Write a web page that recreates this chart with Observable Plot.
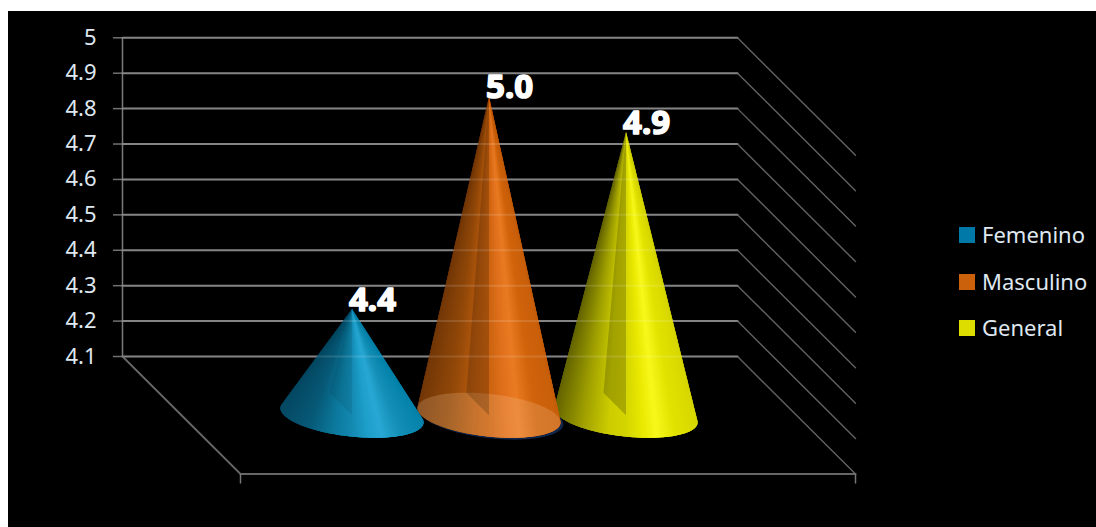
<!DOCTYPE html>
<html>
<head>
<meta charset="utf-8">
<script src="https://cdn.jsdelivr.net/npm/d3@7"></script>
<script src="https://cdn.jsdelivr.net/npm/@observablehq/plot@0.6"></script>
<style>
  html, body { margin: 0; padding: 0; background: #fff; overflow: hidden; height: 527px; }
  #panel { position: absolute; left: 8px; top: 11px; width: 1088px; height: 516px; background: #000; overflow: hidden;
           font-family: "Noto Sans", sans-serif; }
  #panel svg { display: block; }
  .legend { position: absolute; left: 949px; top: 0; color: #dfe8f0; font-size: 22px; }
  .legend div { position: absolute; white-space: nowrap; left: 0; line-height: 24px; }
  .legend i { position: absolute; left: 2px; top: 4px; width: 16px; height: 16px; }
  .legend span { position: absolute; left: 25px; top: -1px; }
</style>
</head>
<body>
<div id="panel"></div>
<script>
// Survey scores by group
const categories = ["Femenino", "Masculino", "General"];
const scores = [4.4, 5.0, 4.9];
const tickValues = [4.1, 4.2, 4.3, 4.4, 4.5, 4.6, 4.7, 4.8, 4.9, 5];
const legendColors = ["#0078a8", "#cc610c", "#dddd00"];

// Lighting around each cone, from its left silhouette to its right one
const shadeStops = [0, 0.2, 0.38, 0.5, 0.62, 0.72, 0.85, 1];
const femeninoShades = ["#054a64", "#075a78", "#0c7a9e", "#1488b0", "#1d9fca", "#28a8d4", "#1590b8", "#0784ac"];
const masculinoShades = ["#743808", "#8f4708", "#b5590e", "#c9620f", "#e0701c", "#e97b22", "#d0640c", "#c95f0c"];
const generalShades = ["#666600", "#a0a000", "#cccc00", "#d4d400", "#e8e800", "#f8f81c", "#e2e200", "#d8d800"];
const shades = [femeninoShades, masculinoShades, generalShades];

// Oblique projection: depth 0 is the back wall, depth 1 the front of the floor
const floorValue = 4.1;
const shearX = 0.19187;
const shearY = 0.3318;
const project = (u, v, d) => ({x: u + d * shearX, y: v - d * shearY});

// Cones stand halfway along the depth, spaced around the centre of the category
const clusterStep = 0.2228;
const radiusX = 0.1104;
const radiusD = 0.1915;
const centerOf = (i) => 0.5 + (i - 1) * clusterStep;

const rimPoint = (i, angle, grow = 1) =>
  project(centerOf(i) + grow * radiusX * Math.cos(angle), floorValue, 0.5 + grow * radiusD * Math.sin(angle));
const apexOf = (i) => project(centerOf(i), scores[i], 0.5);
const baseCenterOf = (i) => project(centerOf(i), floorValue, 0.5);

// Rim angles where the cone's outline touches the base, found by sweeping the rim
function silhouetteAngles(i) {
  const apex = apexOf(i);
  const slope = (a) => {
    const p = rimPoint(i, a);
    return (p.x - apex.x) / (apex.y - p.y);
  };
  const sweep = d3.range(-90, 270, 0.25).map((deg) => (deg * Math.PI) / 180);
  return {left: d3.least(sweep, slope), right: d3.greatest(sweep, slope)};
}

// Cone surface: overlapping fan of thin triangles painted left to right along the front of the rim
function coneFacets(i) {
  const steps = 150;
  const color = d3.scaleLinear().domain(shadeStops).range(shades[i]).interpolate(d3.interpolateRgb);
  const {left, right} = silhouetteAngles(i);
  const xLeft = rimPoint(i, left).x;
  const xRight = rimPoint(i, right).x;
  const apex = apexOf(i);
  const rows = [];
  for (let k = 0; k < steps; ++k) {
    const a0 = left + ((right - left) * k) / steps;
    const a1 = left + ((right - left) * Math.min(k + 1, steps)) / steps;
    const a2 = left + ((right - left) * Math.min(k + 3, steps)) / steps;
    const t = (rimPoint(i, a1).x - xLeft) / (xRight - xLeft);
    const fill = color(t);
    for (const pt of [apex, rimPoint(i, a0), rimPoint(i, a1), rimPoint(i, a2), apex]) {
      rows.push({...pt, facet: k, fill});
    }
  }
  return rows;
}

function ellipse(i, grow = 1, drop = 0, slide = 0) {
  return d3.range(0, 73).map((k) => {
    const p = rimPoint(i, (k / 72) * 2 * Math.PI, grow);
    return {x: p.x + slide, y: p.y - drop};
  });
}

// Inner triangle seen through the translucent surface: apex, base centre, back of the base
const innerFold = (i) => [apexOf(i), baseCenterOf(i), rimPoint(i, -Math.PI / 2), apexOf(i)];

const softEdge = "blur(0.6px)";
const coneMarks = (i) => [
  Plot.line(coneFacets(i), {x: "x", y: "y", z: "facet", fill: "fill", stroke: "none", imageFilter: softEdge})
];

// Back wall and side wall grid lines for every tick
const wallRows = tickValues.flatMap((v) => [{...project(0, v, 0), v}, {...project(1, v, 0), v}]);
const sideRows = tickValues.flatMap((v) => [{...project(1, v, 0), v}, {...project(1, v, 1), v}]);
const floorRows = [project(0, floorValue, 0), project(0, floorValue, 1), project(1, floorValue, 1)];
const labelRows = categories.map((c, i) => ({...apexOf(i), text: d3.format(".1f")(scores[i])}));

const chart = Plot.plot({
  width: 1088,
  height: 516,
  marginLeft: 114,
  marginRight: 241,
  marginTop: 26.3,
  marginBottom: 53.5,
  x: {domain: [0, 1 + shearX], axis: null},
  y: {domain: [floorValue - shearY, 5], axis: null},
  color: {type: "identity"},
  style: {background: "#000", fontFamily: "'Noto Sans', sans-serif", overflow: "visible"},
  marks: [
    Plot.line(wallRows, {x: "x", y: "y", z: "v", stroke: "#727272", strokeWidth: 2}),
    Plot.line(sideRows, {x: "x", y: "y", z: "v", stroke: "#626262", strokeWidth: 1.4}),
    Plot.line(floorRows, {x: "x", y: "y", stroke: "#666", strokeWidth: 1.8}),
    Plot.ruleX([0], {y1: floorValue, y2: 5, stroke: "#7a7a7a", strokeWidth: 1.5}),
    Plot.axisY({
      ticks: tickValues,
      tickSize: 9,
      tickPadding: 17,
      tickFormat: (d) => String(d),
      fontSize: 22,
      fill: "#dfe8f0",
      stroke: "#727272",
      strokeWidth: 1.5,
      label: null
    }),
    Plot.axisX({
      ticks: [project(0, floorValue, 1).x, project(1, floorValue, 1).x],
      tickSize: 10,
      tickFormat: () => "",
      stroke: "#777",
      strokeWidth: 1.5,
      label: null
    }),

    // General sits behind Masculino, which sits behind Femenino
    ...coneMarks(2),
    Plot.line(innerFold(2), {x: "x", y: "y", fill: "#000", fillOpacity: 0.2, stroke: "none", imageFilter: softEdge}),

    Plot.line(ellipse(1, 1.005, 0.005, 0.004), {x: "x", y: "y", fill: "#10264a", stroke: "none", imageFilter: softEdge}),
    ...coneMarks(1),
    Plot.line(ellipse(1), {x: "x", y: "y", fill: "#ffd7b0", fillOpacity: 0.2, stroke: "none", imageFilter: softEdge}),
    Plot.line(innerFold(1), {x: "x", y: "y", fill: "#000", fillOpacity: 0.18, stroke: "none", imageFilter: softEdge}),

    ...coneMarks(0),
    Plot.line(innerFold(0), {x: "x", y: "y", fill: "#000", fillOpacity: 0.07, stroke: "none", imageFilter: softEdge}),

    // Grid faintly visible through the translucent cones
    Plot.line(wallRows, {x: "x", y: "y", z: "v", stroke: "#fff", strokeOpacity: 0.13, strokeWidth: 2}),

    Plot.text(labelRows, {
      x: "x",
      y: "y",
      text: "text",
      dx: -3,
      dy: -9,
      textAnchor: "start",
      fontSize: 33,
      fontWeight: 700,
      fill: "#fff",
      stroke: "#fff",
      strokeWidth: 1.6
    })
  ]
});

const panel = document.getElementById("panel");
panel.appendChild(chart);

// Series key to the right of the plot
const legend = document.createElement("div");
legend.className = "legend";
const rowTops = [212, 259, 305];
categories.forEach((c, i) => {
  const row = document.createElement("div");
  row.style.top = rowTops[i] + "px";
  const swatch = document.createElement("i");
  swatch.style.background = legendColors[i];
  const name = document.createElement("span");
  name.textContent = c;
  row.append(swatch, name);
  legend.appendChild(row);
});
panel.appendChild(legend);
</script>
</body>
</html>
